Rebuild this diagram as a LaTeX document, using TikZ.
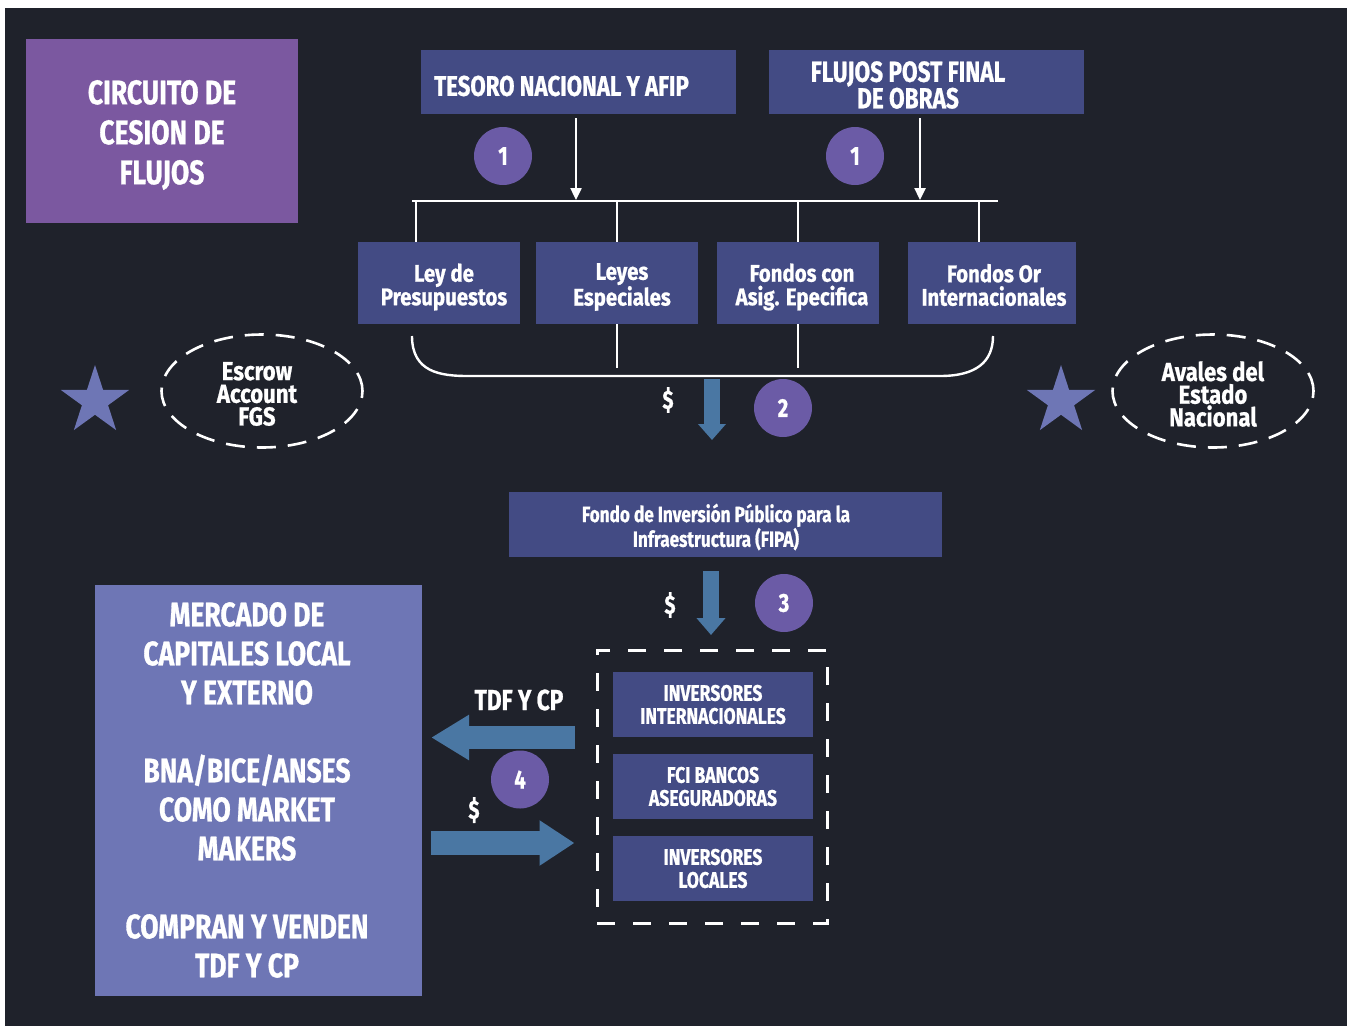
\documentclass[tikz,border=0pt]{standalone}
\usepackage{fontspec}
\newfontfamily\cf{Fira Sans}[FakeStretch=0.78, BoldFeatures={FakeBold=0.8}]
\newfontfamily\cfm{Fira Sans}[FakeStretch=0.85, BoldFeatures={FakeBold=0.8}]
\usetikzlibrary{shapes.geometric,arrows.meta,calc}
\definecolor{bg}{HTML}{1F222B}
\definecolor{titlec}{HTML}{7B58A0}
\definecolor{boxblue}{HTML}{434B84}
\definecolor{circ}{HTML}{6B5BA6}
\definecolor{lav}{HTML}{6E76B5}
\definecolor{steel}{HTML}{4A77A3}
\tikzset{
  bluebox/.style={fill=boxblue, inner sep=0pt, outer sep=0pt},
  txt/.style={text=white, align=center, inner sep=0pt},
  numc/.style={circle, fill=circ, minimum size=58pt, inner sep=0pt, text=white, font=\cf\bfseries\fontsize{26}{26}\selectfont},
  wline/.style={draw=white, line width=2.4pt},
  warrow/.style={wline, -{Triangle[width=11pt,length=12pt]}},
  fat/.style={draw=steel, line cap=butt},
  dollar/.style={text=white, inner sep=0pt, font=\cf\bfseries\fontsize{26}{26}\selectfont},
  dashell/.style={ellipse, draw=white, line width=2.6pt, dash pattern=on 19pt off 12pt, inner sep=0pt},
  starn/.style={star, star points=5, star point ratio=2.618, fill=lav, minimum size=72pt, inner sep=0pt}
}
\begin{document}
\begin{tikzpicture}[x=1pt,y=-1pt]
\useasboundingbox (0,0) rectangle (1352,1026);
\fill[white] (0,0) rectangle (1352,1026);
\fill[bg] (5,8) rectangle (1347,1026);

% title
\node[fill=titlec, minimum width=272pt, minimum height=184pt, inner sep=0pt] (title) at (162,131) {};
\node[txt, font=\cf\bfseries\fontsize{34}{40}\selectfont] (titlet) at (162,135) {CIRCUITO DE\\CESION DE\\FLUJOS};

% top boxes
\node[bluebox, minimum width=315pt, minimum height=64pt] (tes) at (578.5,82) {};
\node[txt, anchor=west, font=\cf\bfseries\fontsize{28.5}{23.5}\selectfont] (test) at (434,86) {TESORO NACIONAL Y AFIP};
\node[bluebox, minimum width=315pt, minimum height=64pt] (flu) at (926.5,82) {};
\node[txt, font=\cf\bfseries\fontsize{29}{23.5}\selectfont] (flut) at (908,85) {FLUJOS POST FINAL\\DE OBRAS};

\node[numc] (n1a) at (503,156) {1};
\node[numc] (n1b) at (855,156) {1};

% bar
\coordinate (barl) at (412,201);
\coordinate (barr) at (998,201);
\draw[wline] (barl) -- (barr);
\draw[warrow] (tes.south -| 576,0) ++(0,4) -- (576,200);
\draw[warrow] (flu.south -| 920,0) ++(0,4) -- (920,200);

% row 2
\node[bluebox, minimum width=162pt, minimum height=82pt] (ley) at (439,283) {};
\node[bluebox, minimum width=162pt, minimum height=82pt] (leyes) at (617,283) {};
\node[bluebox, minimum width=162pt, minimum height=82pt] (fcon) at (798,283) {};
\node[bluebox, minimum width=168pt, minimum height=82pt] (for) at (992,283) {};
\tikzset{r2/.style={txt, font=\cfm\bfseries\fontsize{24}{23.5}\selectfont}}
\node[r2] (leyt) at (444,287) {Ley de\\Presupuestos};
\node[r2] (leyest) at (622,287) {Leyes\\Especiales};
\node[r2] (fcont) at (802,287) {Fondos con\\Asig. Epecifica};
\node[r2] (fort) at (994,285) {Fondos Or\\Internacionales};

\coordinate (d1) at (416,201);
\coordinate (d2) at (617,201);
\coordinate (d3) at (798,201);
\coordinate (d4) at (979,201);
\draw[wline] (d1) -- (d1 |- ley.north);
\draw[wline] (d2) -- (d2 |- leyes.north);
\draw[wline] (d3) -- (d3 |- fcon.north);
\draw[wline] (d4) -- (d4 |- for.north);

% brace
\coordinate (brl) at (412,336);
\coordinate (brr) at (993,336);
\draw[wline] (brl) .. controls (412,372) and (440,376) .. (468,376) -- (940,376) .. controls (976,376) and (993,362) .. (brr);
\draw[wline] (leyes.south) -- ++(0,44);
\draw[wline] (fcon.south) -- ++(0,44);

% escrow / avales
\node[starn] (star1) at (95,401) {};
\node[dashell, minimum width=201pt, minimum height=113pt] (esc) at (262,391) {};
\node[txt, font=\cfm\bfseries\fontsize{26}{22.7}\selectfont] (esct) at (257,394) {Escrow\\Account\\FGS};
\node[starn] (star2) at (1061,401) {};
\node[dashell, minimum width=201pt, minimum height=113pt] (ava) at (1213,391) {};
\node[txt, font=\cfm\bfseries\fontsize{26}{22.7}\selectfont] (avat) at (1213,394) {Avales del\\Estado\\Nacional};

% arrow 2
\coordinate (a2s) at (712,379);
\coordinate (a2e) at (712,440);
\draw[fat, line width=16pt, -{Triangle[width=27pt,length=16pt]}] (a2s) -- (a2e);
\node[dollar] (d2l) at (668,400) {\$};
\node[numc] (n2) at (783,408) {2};

% FIPA
\node[bluebox, minimum width=433pt, minimum height=65pt] (fipa) at (725.5,524.5) {};
\node[txt, font=\cf\bfseries\fontsize{22}{23}\selectfont] (fipat) at (716,527) {Fondo de Inversión Público para la\\Infraestructura (FIPA)};

% arrow 3
\coordinate (a3s) at (711,571);
\coordinate (a3e) at (711,635);
\draw[fat, line width=16pt, -{Triangle[width=28pt,length=17pt]}] (a3s) -- (a3e);
\node[dollar] (d3l) at (670,605) {\$};
\node[numc] (n3) at (784,603) {3};

% investors group
\node[draw=white, line width=3pt, dash pattern=on 18pt off 18pt, minimum width=230pt, minimum height=273pt, inner sep=0pt] (grp) at (712,786.5) {};
\tikzset{inv/.style={bluebox, minimum width=200pt, minimum height=65pt, text=white, align=center, font=\cf\bfseries\fontsize{22.5}{23}\selectfont}}
\node[inv] (inv1) at (713,704.5) {INVERSORES\\INTERNACIONALES};
\node[inv] (inv2) at (713,786.5) {FCI BANCOS\\ASEGURADORAS};
\node[inv] (inv3) at (713,868.5) {INVERSORES\\LOCALES};

% mercado
\node[fill=lav, minimum width=327pt, minimum height=411pt, inner sep=0pt] (merc) at (258.5,790.5) {};
\node[txt, font=\cf\bfseries\fontsize{34}{39}\selectfont] (merct) at (247,790) {MERCADO DE\\CAPITALES LOCAL\\Y EXTERNO\\[39pt]BNA/BICE/ANSES\\COMO MARKET\\MAKERS\\[39pt]COMPRAN Y VENDEN\\TDF Y CP};

% arrows 4
\coordinate (a4ls) at (grp.west |- 0,737.5);
\coordinate (a4le) at (merc.east |- 0,737.5);
\draw[fat, line width=23pt, -{Triangle[width=43pt,length=38pt]}] ($(a4ls)+(-21,0)$) -- ($(a4le)+(9,0)$);
\coordinate (a4rs) at (merc.east |- 0,843);
\coordinate (a4re) at (grp.west |- 0,843);
\draw[fat, line width=24pt, -{Triangle[width=43pt,length=35pt]}] ($(a4rs)+(9,0)$) -- ($(a4re)+(-21,0)$);
\node[txt, font=\cf\bfseries\fontsize{29}{29}\selectfont] (tdf) at (519,700) {TDF Y CP};
\node[numc] (n4) at (520,779.5) {4};
\node[dollar] (d4l) at (474,810) {\$};
\end{tikzpicture}
\end{document}
